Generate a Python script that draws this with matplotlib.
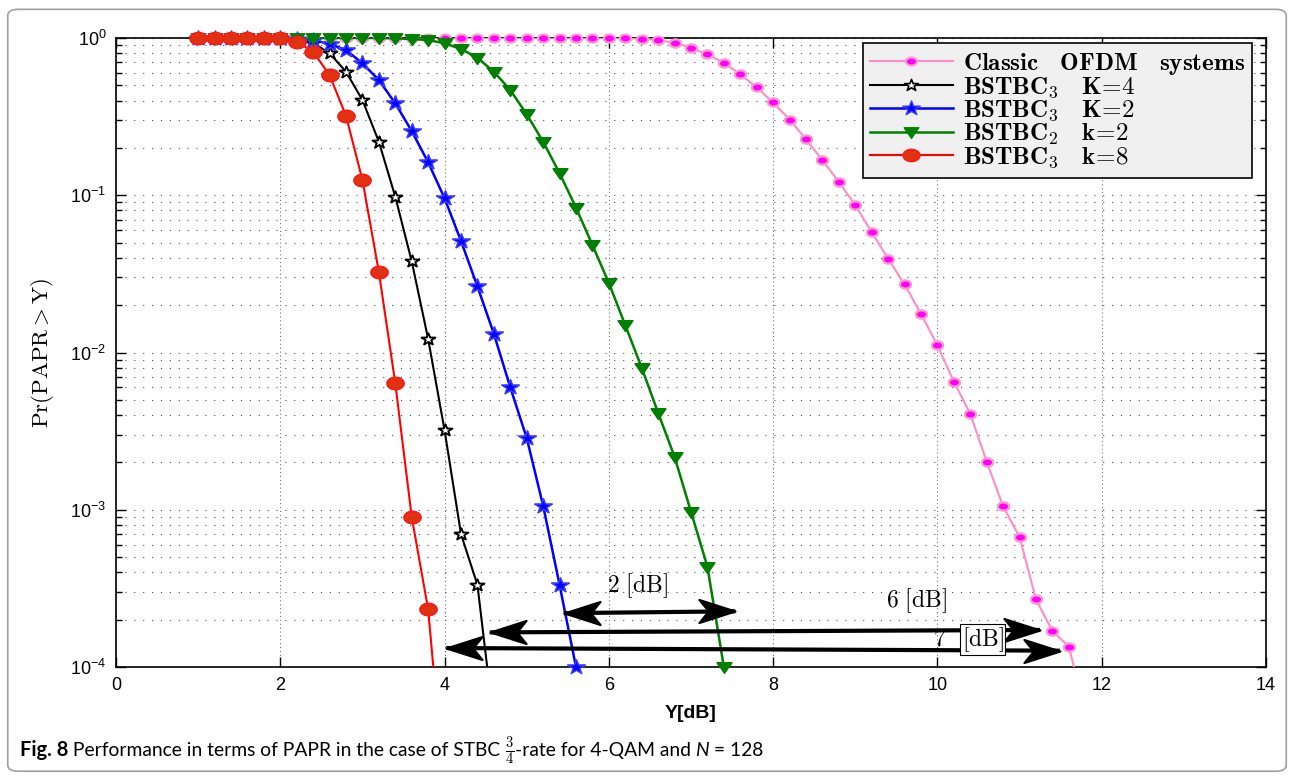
import matplotlib
matplotlib.use("Agg")
import matplotlib.pyplot as plt
import numpy as np
from matplotlib.path import Path
from matplotlib.markers import MarkerStyle
from matplotlib.transforms import Affine2D
from matplotlib.patches import FancyBboxPatch

plt.rcParams['font.family'] = ['Liberation Sans', 'DejaVu Sans']
plt.rcParams['mathtext.fontset'] = 'cm'

# Y [dB] grid shared by all curves
y_db = [1.0, 1.2, 1.4, 1.6, 1.8, 2.0, 2.2, 2.4, 2.6, 2.8, 3.0, 3.2, 3.4, 3.6,
        3.8, 4.0, 4.2, 4.4, 4.6, 4.8, 5.0, 5.2, 5.4, 5.6, 5.8, 6.0, 6.2, 6.4,
        6.6, 6.8, 7.0, 7.2, 7.4, 7.6, 7.8, 8.0, 8.2, 8.4, 8.6, 8.8, 9.0, 9.2,
        9.4, 9.6, 9.8, 10.0, 10.2, 10.4, 10.6, 10.8, 11.0, 11.2, 11.4, 11.6, 11.8]

# CCDF values Pr(PAPR > Y)
classic = [1] * 26 + [0.995, 0.99, 0.971, 0.933, 0.868, 0.787, 0.696, 0.587,
                      0.485, 0.389, 0.303, 0.227, 0.167, 0.1216, 0.0864, 0.0583,
                      0.0395, 0.0271, 0.0176, 0.0111, 6.53e-3, 4.07e-3, 2.02e-3,
                      1.05e-3, 6.7e-4, 2.69e-4, 1.69e-4, 1.35e-4, 5.1e-5]
k4 = [1] * 6 + [0.985, 0.93, 0.80, 0.61, 0.403, 0.219, 0.0978, 0.038, 0.0122,
                0.0032, 7.0e-4, 3.33e-4, 4.4e-5]
k2 = [1] * 6 + [0.99, 0.97, 0.916, 0.839, 0.690, 0.540, 0.384, 0.256, 0.162,
                0.0957, 0.0512, 0.0263, 0.01316, 0.0060, 0.00286, 0.00106,
                3.33e-4, 1.0e-4]
bstbc2_k2 = [1] * 12 + [0.995, 0.985, 0.971, 0.925, 0.851, 0.749, 0.610, 0.467,
                        0.327, 0.219, 0.138, 0.0835, 0.0482, 0.0277, 0.0149,
                        0.0080, 0.00413, 0.00217, 9.7e-4, 4.34e-4, 1.0e-4]
k8 = [1] * 6 + [0.947, 0.818, 0.581, 0.320, 0.125, 0.0325, 0.00638, 9.0e-4,
                2.33e-4, 1.6e-5]

labels = [r'$\mathbf{Classic\ \ \ OFDM\ \ \ systems}$',
          r'$\mathbf{BSTBC_3\ \ \ K\!=\!4}$',
          r'$\mathbf{BSTBC_3\ \ \ K\!=\!2}$',
          r'$\mathbf{BSTBC_2\ \ \ k\!=\!2}$',
          r'$\mathbf{BSTBC_3\ \ \ k\!=\!8}$']

# gap annotations: (x_left, y_left), (x_right, y_right), label, label position
gaps = [((5.45, 2.2e-4), (7.54, 2.26e-4), '2 [dB]', (6.35, 3.3e-4)),
        ((4.55, 1.66e-4), (11.25, 1.72e-4), '6 [dB]', (9.75, 2.65e-4)),
        ((4.02, 1.32e-4), (11.49, 1.27e-4), '7 [dB]', (10.25, 1.5e-4))]

# slightly wide markers (the original figure is stretched horizontally)
t = np.linspace(0, 2 * np.pi, 41)
ellipse = Path(np.column_stack([np.cos(t), 0.72 * np.sin(t)]), closed=True)
star = MarkerStyle('*').get_path().transformed(Affine2D().scale(1.2, 1.0))
tri_down = Path([[0, -0.8], [-1.0, 0.65], [1.0, 0.65], [0, -0.8]], closed=True)
# concave arrow heads with the tip at the marker origin
head_r = Path([[0, 0], [-1, 0.32], [-0.74, 0], [-1, -0.32], [0, 0]], closed=True)
head_l = Path([[0, 0], [1, 0.32], [0.74, 0], [1, -0.32], [0, 0]], closed=True)

styles = [dict(color='#ff8cc8', lw=1.5, marker=ellipse, ms=8, mfc='#ff00ff', mec='#ff99cc', mew=1.5),
          dict(color='black', lw=1.5, marker=star, ms=10, mfc='white', mec='black', mew=1.2),
          dict(color='#0000ff', lw=1.8, marker=star, ms=12.5, mfc='#0000ff', mec='#3c3cff', mew=1.0),
          dict(color='#008000', lw=1.8, marker=tri_down, ms=10.5, mfc='#008000', mec='#008000', mew=1.0),
          dict(color='#ff0000', lw=1.5, marker=ellipse, ms=12, mfc='#dd3311', mec='#ff1a1a', mew=1.2)]

fig = plt.figure(figsize=(12.94, 7.79), dpi=100)
ax = fig.add_axes([116 / 1294, 1 - 667 / 779, 1150 / 1294, 629 / 779])

handles = []
for i, (vals, lab, st) in enumerate(zip([classic, k4, k2, bstbc2_k2, k8], labels, styles)):
    xs = np.array(y_db[:len(vals)])
    vs = np.array(vals, dtype=float)
    h, = ax.plot(xs, vs, label=lab, zorder=3 + i, **st)
    handles.append(h)
    keep = vs >= 0.99e-4
    ax.plot(xs[keep], vs[keep], linestyle='none', clip_on=False, zorder=3 + i,
            **{k: v for k, v in st.items() if k not in ('lw', 'color')})

ax.set_yscale('log')
ax.set_xlim(0, 14)
ax.set_ylim(1e-4, 1)
ax.set_xticks(range(0, 15, 2))

ax.grid(True, which='major', axis='x', linestyle=(0, (1, 3)), color='0.35', lw=0.7)
ax.grid(True, which='both', axis='y', linestyle=(0, (1, 7)), color='0.3', lw=0.8)
ax.tick_params(which='both', direction='in', top=True, right=True, labelsize=13,
               width=1.0)
ax.tick_params(which='major', length=7, pad=7)
ax.tick_params(which='minor', length=4)
for sp in ax.spines.values():
    sp.set_linewidth(1.2)

ax.set_xlabel('Y[dB]', fontsize=14, fontweight='bold', labelpad=8)
ax.set_ylabel(r'$\mathrm{Pr}(\mathrm{PAPR} > \mathrm{Y})$', fontsize=16.5, labelpad=10)

leg = ax.legend(handles=handles, loc='upper right', bbox_to_anchor=(0.988, 0.992),
                borderaxespad=0, fontsize=18, handlelength=3.3, labelspacing=-0.08,
                handletextpad=0.4, borderpad=0.3, fancybox=False,
                facecolor='#f0f0f0', edgecolor='black', framealpha=1)
leg.get_frame().set_linewidth(1.2)
leg.set_zorder(20)

for (xa, ya), (xb, yb), txt, (tx, ty) in gaps:
    ax.plot([xa, xb], [ya, yb], color='black', lw=3, solid_capstyle='butt', zorder=15)
    ax.plot(xb, yb, marker=head_r, ms=52, color='black', mew=1.5, zorder=15)
    ax.plot(xa, ya, marker=head_l, ms=52, color='black', mew=1.5, zorder=15)
    num = txt.split(' ')[0]
    if num == '7':
        ax.text(tx - 0.22, ty, r'$7$', fontsize=17, ha='center', va='center', zorder=16)
        ax.text(tx + 0.3, ty, r'$[\mathrm{dB}]$', fontsize=17, ha='center', va='center',
                zorder=16, bbox=dict(boxstyle='square,pad=0.05', fc='white', ec='black', lw=0.8))
    else:
        ax.text(tx, ty, r'$%s\ [\mathrm{dB}]$' % num, fontsize=17, ha='center',
                va='center', zorder=16)

# page frame and caption
fig.patches.append(FancyBboxPatch((0.006, 0.01), 0.988, 0.978,
                                  boxstyle='round,pad=0,rounding_size=0.008',
                                  transform=fig.transFigure, fill=False,
                                  ec='#a0a0a0', lw=1.2))

renderer = fig.canvas.get_renderer()
pieces = [('Fig. 8', dict(fontweight='bold', fontsize=14.5)),
          (' Performance in terms of PAPR in the case of STBC ', {}),
          (r'$\frac{3}{4}$', dict(fontsize=15)),
          ('-rate for 4-QAM and ', {}),
          ('N', dict(fontstyle='italic')),
          (' = 128', {})]
cx = 20 / 1294
for s, kw in pieces:
    opts = dict(fontsize=13.9, va='baseline', ha='left', family=['Lato', 'DejaVu Sans'])
    opts.update(kw)
    tt = fig.text(cx, 1 - 756 / 779, s, **opts)
    bb = tt.get_window_extent(renderer)
    cx = bb.x1 / fig.bbox.width

fig.savefig('out.png', dpi=100)
